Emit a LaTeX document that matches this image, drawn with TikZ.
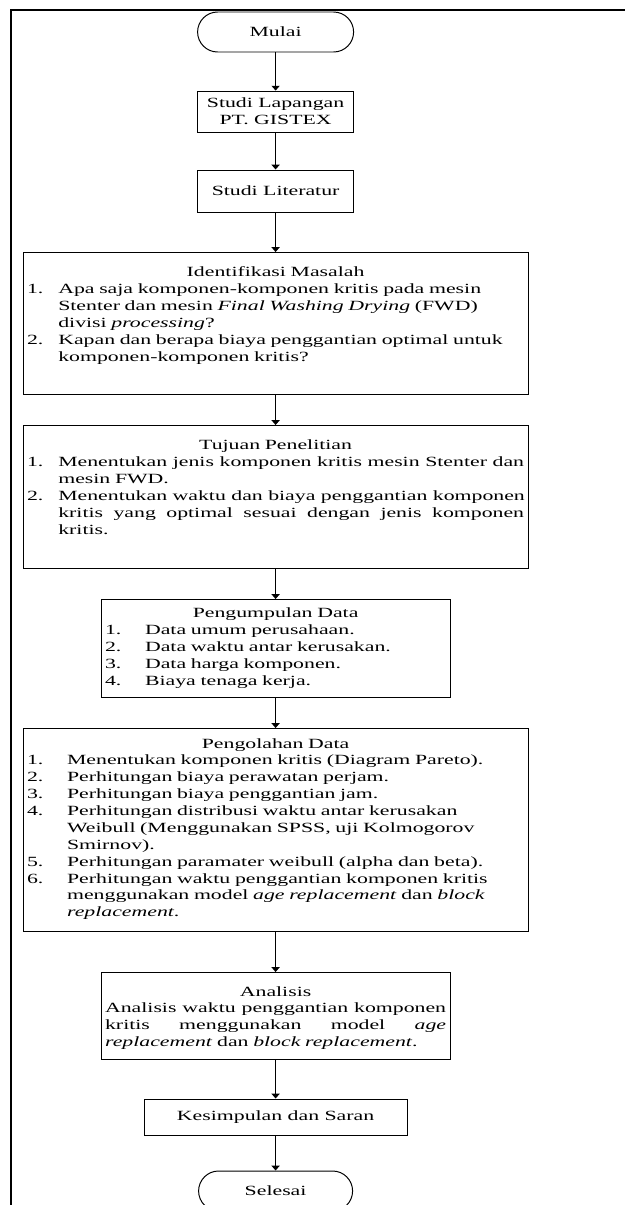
\documentclass[tikz,border=0pt]{standalone}
\usepackage{fontspec}
\setmainfont{Liberation Serif}[FakeStretch=1.55]
\usetikzlibrary{arrows.meta, positioning}
\newcommand{\nomor}[1]{\makebox[0.78cm][l]{#1}}
\newcommand{\nomorb}[1]{\makebox[1cm][l]{#1}}
\newcommand{\judul}[1]{\makebox[\linewidth]{#1}}
\newcommand{\rata}[2]{\makebox[\dimexpr\linewidth-#1\relax][s]{\spaceskip=\fontdimen2\font plus 1fil\relax #2}}

\begin{document}
\begin{tikzpicture}[font=\fontsize{10}{12}\selectfont,
    kotak/.style={draw, line width=0.7pt, align=center, minimum width=3.9cm, minimum height=1.05cm, inner sep=0.1cm},
    terminal/.style={kotak, rounded corners=0.5cm, minimum height=1cm},
    proses/.style={draw, line width=0.7pt, anchor=north, align=left, text width=#1, inner xsep=0.1cm, inner ysep=0.22cm},
    panah/.style={-{Triangle[length=0.12cm, width=0.2cm]}, line width=1pt}]
    \useasboundingbox (0,0) rectangle (15.625,-30.125);
    % garis tepi
    \draw[line width=1.4pt] (0.28,-30.3) -- (0.28,-0.25) -- (15.8,-0.25);

    \node[terminal] (mulai) at (6.89,-0.8) {Mulai};
    \node[kotak, minimum height=1.025cm] (lapangan) at (6.89,-2.79) {Studi Lapangan\\PT. GISTEX};
    \node[kotak] (literatur) at (6.89,-4.775) {Studi Literatur};

    \node[proses=12.425cm, text height=0.39cm, text depth=2.72cm] (identifikasi) at (6.89,-6.3) {
        \judul{Identifikasi Masalah}\\
        \nomor{1.}Apa saja komponen-komponen kritis pada mesin\\
        \hspace*{0.78cm}Stenter dan mesin \textit{Final Washing Drying} (FWD)\\
        \hspace*{0.78cm}divisi \textit{processing}?\\
        \nomor{2.}Kapan dan berapa biaya penggantian optimal untuk\\
        \hspace*{0.78cm}komponen-komponen kritis?};

    \node[proses=12.425cm, text height=0.39cm, text depth=2.745cm] (tujuan) at (6.89,-10.625) {
        \judul{Tujuan Penelitian}\\
        \nomor{1.}\rata{0.78cm}{Menentukan jenis komponen kritis mesin Stenter dan}\\
        \hspace*{0.78cm}mesin FWD.\\
        \nomor{2.}\rata{0.78cm}{Menentukan waktu dan biaya penggantian komponen}\\
        \hspace*{0.78cm}\rata{0.78cm}{kritis yang optimal sesuai dengan jenis komponen}\\
        \hspace*{0.78cm}kritis.};

    \node[proses=8.525cm, text height=0.24cm, text depth=1.77cm] (pengumpulan) at (6.89,-14.975) {
        \judul{Pengumpulan Data}\\
        \nomorb{1.}Data umum perusahaan.\\
        \nomorb{2.}Data waktu antar kerusakan.\\
        \nomorb{3.}Data harga komponen.\\
        \nomorb{4.}Biaya tenaga kerja.};

    \node[proses=12.425cm, text height=0.27cm, text depth=4.365cm] (pengolahan) at (6.89,-18.2) {
        \judul{Pengolahan Data}\\
        \nomorb{1.}Menentukan komponen kritis (Diagram Pareto).\\
        \nomorb{2.}Perhitungan biaya perawatan perjam.\\
        \nomorb{3.}Perhitungan biaya penggantian jam.\\
        \nomorb{4.}Perhitungan distribusi waktu antar kerusakan\\
        \hspace*{1cm}Weibull (Menggunakan SPSS, uji Kolmogorov\\
        \hspace*{1cm}Smirnov).\\
        \nomorb{5.}Perhitungan paramater weibull (alpha dan beta).\\
        \nomorb{6.}Perhitungan waktu penggantian komponen kritis\\
        \hspace*{1cm}menggunakan model \textit{age replacement} dan \textit{block}\\
        \hspace*{1cm}\textit{replacement}.};

    \node[proses=8.525cm, text height=0.37cm, text depth=1.365cm] (analisis) at (6.89,-24.3) {
        \judul{Analisis}\\
        \rata{0pt}{Analisis waktu penggantian komponen}\\
        \rata{0pt}{kritis menggunakan model \textit{age}}\\
        \textit{replacement} dan \textit{block replacement}.};

    \node[kotak, minimum width=6.575cm, minimum height=0.9cm] (kesimpulan) at (6.89,-27.925) {Kesimpulan dan Saran};
    \node[terminal, minimum width=3.85cm] (selesai) at (6.89,-29.775) {Selesai};

    \foreach \dari/\ke in {mulai/lapangan, lapangan/literatur, literatur/identifikasi, identifikasi/tujuan, tujuan/pengumpulan, pengumpulan/pengolahan, pengolahan/analisis, analisis/kesimpulan, kesimpulan/selesai}
        \draw[panah] (\dari) -- (\ke);
\end{tikzpicture}
\end{document}
